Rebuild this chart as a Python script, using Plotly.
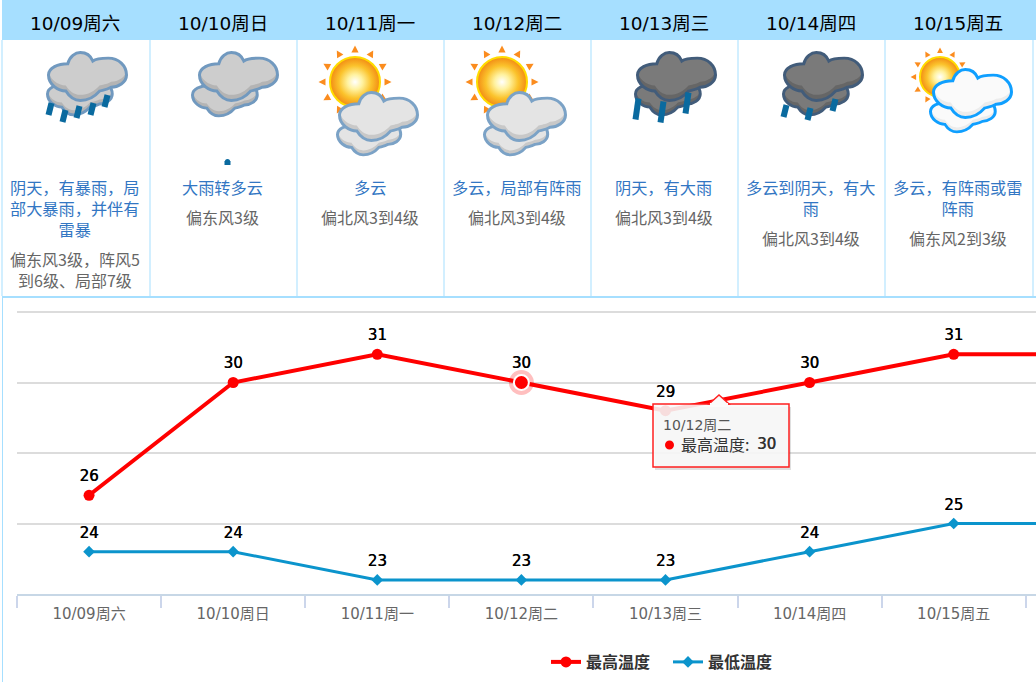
import base64
import math
import plotly.graph_objects as go

W, H = 1036, 682
PL, PR, PT, PB = 17, 1036, 310, 594

dates = ["10/09周六", "10/10周日", "10/11周一", "10/12周二", "10/13周三", "10/14周四", "10/15周五", "10/16周六"]
high_temp = [26, 30, 31, 30, 29, 30, 31, 31]
low_temp = [24, 24, 23, 23, 23, 24, 25, 25]
weather_text = [
    "阴天，有暴雨，局<br>部大暴雨，并伴有<br>雷暴",
    "大雨转多云",
    "多云",
    "多云，局部有阵雨",
    "阴天，有大雨",
    "多云到阴天，有大<br>雨",
    "多云，有阵雨或雷<br>阵雨",
]
wind_text = [
    "偏东风3级，阵风5<br>到6级、局部7级",
    "偏东风3级",
    "偏北风3到4级",
    "偏北风3到4级",
    "偏北风3到4级",
    "偏北风3到4级",
    "偏东风2到3级",
]
tooltip_index = 3
visible_points = 7

FONT = "'Noto Sans CJK SC', sans-serif"
LAT = "'DejaVu Sans', 'Noto Sans CJK SC', sans-serif"
BLUE = "#a6dfff"
cell_edges = [2, 150, 297, 444, 591, 738, 885, 1033]


def px(x):
    return (x - PL) / (PR - PL)


def py(y):
    return (PB - y) / (PB - PT)


CLOUD = ("M0,24 C0,16 10,12 20,12 C22,4 28,0 33,0 C40,0 44,4 46,9 C50,6 56,6 62,6 "
         "C73,6 81,14 81,24 C81,32 72,37 65,37 C60,40 56,40 53,41 C48,47 41,51 33,51 "
         "C26,51 21,46 18,41 C10,41 0,34 0,24 Z")


def cloud(uid, x, y, sx, sy, stroke, light, dark, sw=3):
    ix, iy = x + sw / 2, y + sw / 2
    isx, isy = sx * (81 - sw) / 81, sy * (51 - sw) / 51
    sw2 = sw / isx
    return (f'<g transform="translate({ix},{iy}) scale({isx:.4f},{isy:.4f})">'
            f'<clipPath id="c{uid}"><path d="{CLOUD}"/></clipPath>'
            f'<path d="{CLOUD}" fill="{dark}"/>'
            f'<g clip-path="url(#c{uid})"><path d="{CLOUD}" fill="{light}" transform="translate(0,-6)"/></g>'
            f'<path d="{CLOUD}" fill="none" stroke="{stroke}" stroke-width="{sw2:.2f}"/></g>')


def sun(uid, cx, cy, r):
    rays = ""
    for i in range(12):
        a = math.radians(i * 30)
        d = r * 1.22
        s = r * 0.14
        tipx, tipy = cx + math.sin(a) * (d + s * 1.3), cy - math.cos(a) * (d + s * 1.3)
        b1x, b1y = cx + math.sin(a) * (d - s * .6) + math.cos(a) * s, cy - math.cos(a) * (d - s * .6) + math.sin(a) * s
        b2x, b2y = cx + math.sin(a) * (d - s * .6) - math.cos(a) * s, cy - math.cos(a) * (d - s * .6) - math.sin(a) * s
        rays += f'<polygon points="{tipx:.1f},{tipy:.1f} {b1x:.1f},{b1y:.1f} {b2x:.1f},{b2y:.1f}" fill="#fb8c1e"/>'
    return (f'<radialGradient id="s{uid}"><stop offset="0" stop-color="#ffffff"/>'
            f'<stop offset=".3" stop-color="#fff2a0"/><stop offset=".65" stop-color="#fbc32c"/>'
            f'<stop offset="1" stop-color="#f28a14"/></radialGradient>'
            f'{rays}<circle cx="{cx}" cy="{cy}" r="{r-1}" fill="url(#s{uid})" stroke="#ffdc00" stroke-width="2"/>')


def drops(items):
    out = ""
    for cx, cy, h in items:
        out += (f'<line x1="{cx+1.5}" y1="{cy-h/2}" x2="{cx-1.5}" y2="{cy+h/2}" '
                f'stroke="#0a6a9f" stroke-width="6"/>')
    return out


GREY = ("#7199bf", "#cdcdcd", "#b4b4b4")
PALE = ("#7ba2c6", "#e4e4e4", "#c8c8c8")
DARK = ("#425c7a", "#7a7a7a", "#666666")
WHITE = ("#0f9fff", "#fafafa", "#ececec")

icon_svgs = [
    cloud("a", 46, 74, .83, .82, *GREY) + cloud("b", 47, 51, 1, 1, *GREY)
    + drops([(50, 109, 12), (64, 116, 12), (78, 112, 12), (92, 109, 12), (106, 101, 12)]),
    cloud("a", 191, 75, .83, .82, *GREY) + cloud("b", 198, 51, 1, 1, *GREY)
    + '<rect x="224.5" y="161" width="6" height="4" fill="#0a6a9f"/><circle cx="227.5" cy="161.5" r="2.6" fill="#0a6a9f"/>',
    sun("a", 355, 82, 26) + cloud("a", 336, 115, .81, .8, *PALE) + cloud("b", 338, 91, 1, 1, *PALE),
    sun("a", 502, 82, 26) + cloud("a", 483, 115, .81, .8, *PALE) + cloud("b", 486, 91, 1, 1, *PALE),
    cloud("a", 634, 74, .83, .82, *DARK) + cloud("b", 636, 51, 1, 1, *DARK)
    + drops([(637, 109, 21), (662, 112, 21), (687, 103, 21)]),
    cloud("a", 782, 74, .83, .82, *DARK) + cloud("b", 783, 51, 1, 1, *DARK)
    + drops([(785, 111, 12), (809, 114, 12), (834, 105, 12)]),
    sun("a", 940, 77, 21) + cloud("a", 929, 92, .83, .8, *WHITE) + cloud("b", 932, 68, 1, 1, *WHITE),
]

fig = go.Figure()
label_font = dict(family=LAT, size=15, color="#000000", shadow="0.4px 0 0 #000000")
fig.add_trace(go.Scatter(
    x=dates, y=high_temp, name="最高温度", mode="lines+markers",
    line=dict(color="#ff0000", width=4), marker=dict(symbol="circle", size=11, color="#ff0000"),
    cliponaxis=True, hoverinfo="skip",
))
fig.add_trace(go.Scatter(
    x=dates, y=low_temp, name="最低温度", mode="lines+markers",
    line=dict(color="#0b94cc", width=3), marker=dict(symbol="diamond", size=9, color="#0b94cc"),
    cliponaxis=True, hoverinfo="skip",
))
# value labels: an invisible marker sets how far each label stands above its point
fig.add_trace(go.Scatter(
    x=dates[:visible_points], y=high_temp[:visible_points], mode="markers+text", showlegend=False,
    marker=dict(size=15, opacity=0), text=[str(v) for v in high_temp[:visible_points]],
    textposition="top center", textfont=label_font, hoverinfo="skip",
))
fig.add_trace(go.Scatter(
    x=dates[:visible_points], y=low_temp[:visible_points], mode="markers+text", showlegend=False,
    marker=dict(size=14, opacity=0), text=[str(v) for v in low_temp[:visible_points]],
    textposition="top center", textfont=label_font, hoverinfo="skip",
))
# highlighted point under the tooltip
fig.add_trace(go.Scatter(
    x=[dates[tooltip_index]], y=[high_temp[tooltip_index]], mode="markers", showlegend=False,
    marker=dict(size=25, color="rgba(255,0,0,0.25)"), hoverinfo="skip",
))
fig.add_trace(go.Scatter(
    x=[dates[tooltip_index]], y=[high_temp[tooltip_index]], mode="markers", showlegend=False,
    marker=dict(size=15, color="#ff0000", line=dict(color="#ffffff", width=2)), hoverinfo="skip",
))

shapes = []
def rect(x0, y0, x1, y1, fill, line=None, lw=0, layer="below"):
    shapes.append(dict(type="rect", xref="paper", yref="paper", x0=px(x0), x1=px(x1), y0=py(y1), y1=py(y0),
                       fillcolor=fill, line=dict(color=line or fill, width=lw), layer=layer))

rect(2, 0, W, 40, BLUE)
for e in cell_edges:
    rect(e - .5, 40, e + .5, 296, BLUE)
rect(2, 296, W, 298, BLUE)
rect(2, 298, 3, H, BLUE)

# tooltip
rect(655, 407, 791, 470, "rgba(80,80,80,0.18)", layer="above")
rect(653, 404, 789, 467, "rgba(250,250,250,0.88)", "#ff2020", 1.5, layer="above")
caret = (f"M {px(709)} {py(404)} L {px(719)} {py(395)} L {px(729)} {py(404)} Z")
shapes.append(dict(type="path", xref="paper", yref="paper", path=caret, fillcolor="#fafafa",
                   line=dict(color="#ff2020", width=1.5), layer="above"))
rect(710, 403, 728, 405, "#fafafa", layer="above")
shapes.append(dict(type="circle", xref="paper", yref="paper", x0=px(665), x1=px(674), y0=py(449.5), y1=py(440.5),
                   fillcolor="#ff0000", line=dict(width=0), layer="above"))

ann = []
def text(x, y, s, size, color, anchor="center", ya="middle", family=FONT, weight=None, shadow=None):
    font = dict(family=family, size=size, color=color, weight=weight)
    if shadow:
        font["shadow"] = shadow
    ann.append(dict(xref="paper", yref="paper", x=px(x), y=py(y), text=s, showarrow=False,
                    xanchor=anchor, yanchor=ya, align="center", font=font,
                    borderpad=0, borderwidth=0))

for i in range(7):
    cx = (cell_edges[i] + cell_edges[i + 1]) / 2 - 1
    text(cx, 23, dates[i], 18.5, "#000000", family=LAT)
    text(cx, 174.5, weather_text[i], 16.2, "#3276c3", ya="top")
    lines = weather_text[i].count("<br>") + 1
    text(cx, 205 + (lines - 1) * 21, wind_text[i], 16, "#666666", ya="top")

text(663, 425, dates[tooltip_index], 14, "#555555", anchor="left", family=LAT)
text(681, 444, "最高温度:", 16, "#333333", anchor="left")
text(757, 444, str(high_temp[tooltip_index]), 15, "#333333", anchor="left", family=LAT, shadow="0.4px 0 0 #333333")

images = []
for i, inner in enumerate(icon_svgs):
    x0 = cell_edges[i] + 1
    svg = (f'<svg xmlns="http://www.w3.org/2000/svg" width="146" height="120" viewBox="{x0} 45 146 120">'
           f'{inner}</svg>')
    src = "data:image/svg+xml;base64," + base64.b64encode(svg.encode()).decode()
    images.append(dict(source=src, xref="paper", yref="paper", x=px(x0), y=py(45),
                       sizex=146 / (PR - PL), sizey=120 / (PB - PT), xanchor="left", yanchor="top",
                       sizing="stretch", layer="above"))

fig.update_layout(
    width=W, height=H, autosize=False,
    margin=dict(l=PL, r=W - PR, t=PT, b=H - PB, pad=0),
    paper_bgcolor="#ffffff", plot_bgcolor="#ffffff",
    font=dict(family=FONT),
    shapes=shapes, annotations=ann, images=images,
    xaxis=dict(type="category", categoryorder="array", categoryarray=dates, range=[-0.5, 6.571],
               tickson="boundaries", ticks="outside", ticklen=12, tickwidth=1.5, tickcolor="#ccd6eb",
               ticklabelstandoff=5,
               showline=True, linecolor="#c7d7e6", linewidth=1.5, showgrid=False, zeroline=False,
               tickfont=dict(family=LAT, size=15, color="#666666"), fixedrange=True),
    yaxis=dict(range=[22.5, 32.571], tick0=22.5, dtick=2.5, showgrid=True, gridcolor="#dcdcdc", gridwidth=1.5,
               showticklabels=False, ticks="", zeroline=False, showline=False, fixedrange=True),
    showlegend=True,
    legend=dict(orientation="h", x=px(668), xanchor="center", y=py(662), yanchor="middle",
                entrywidth=77, entrywidthmode="pixels",
                font=dict(family=FONT, size=16, color="#333333", weight="bold"),
                bgcolor="rgba(0,0,0,0)", itemclick=False, itemdoubleclick=False),
)
fig.write_html("out.html", config={"displayModeBar": False},
               post_script="document.body.style.margin='0';document.documentElement.style.overflow='hidden';")
